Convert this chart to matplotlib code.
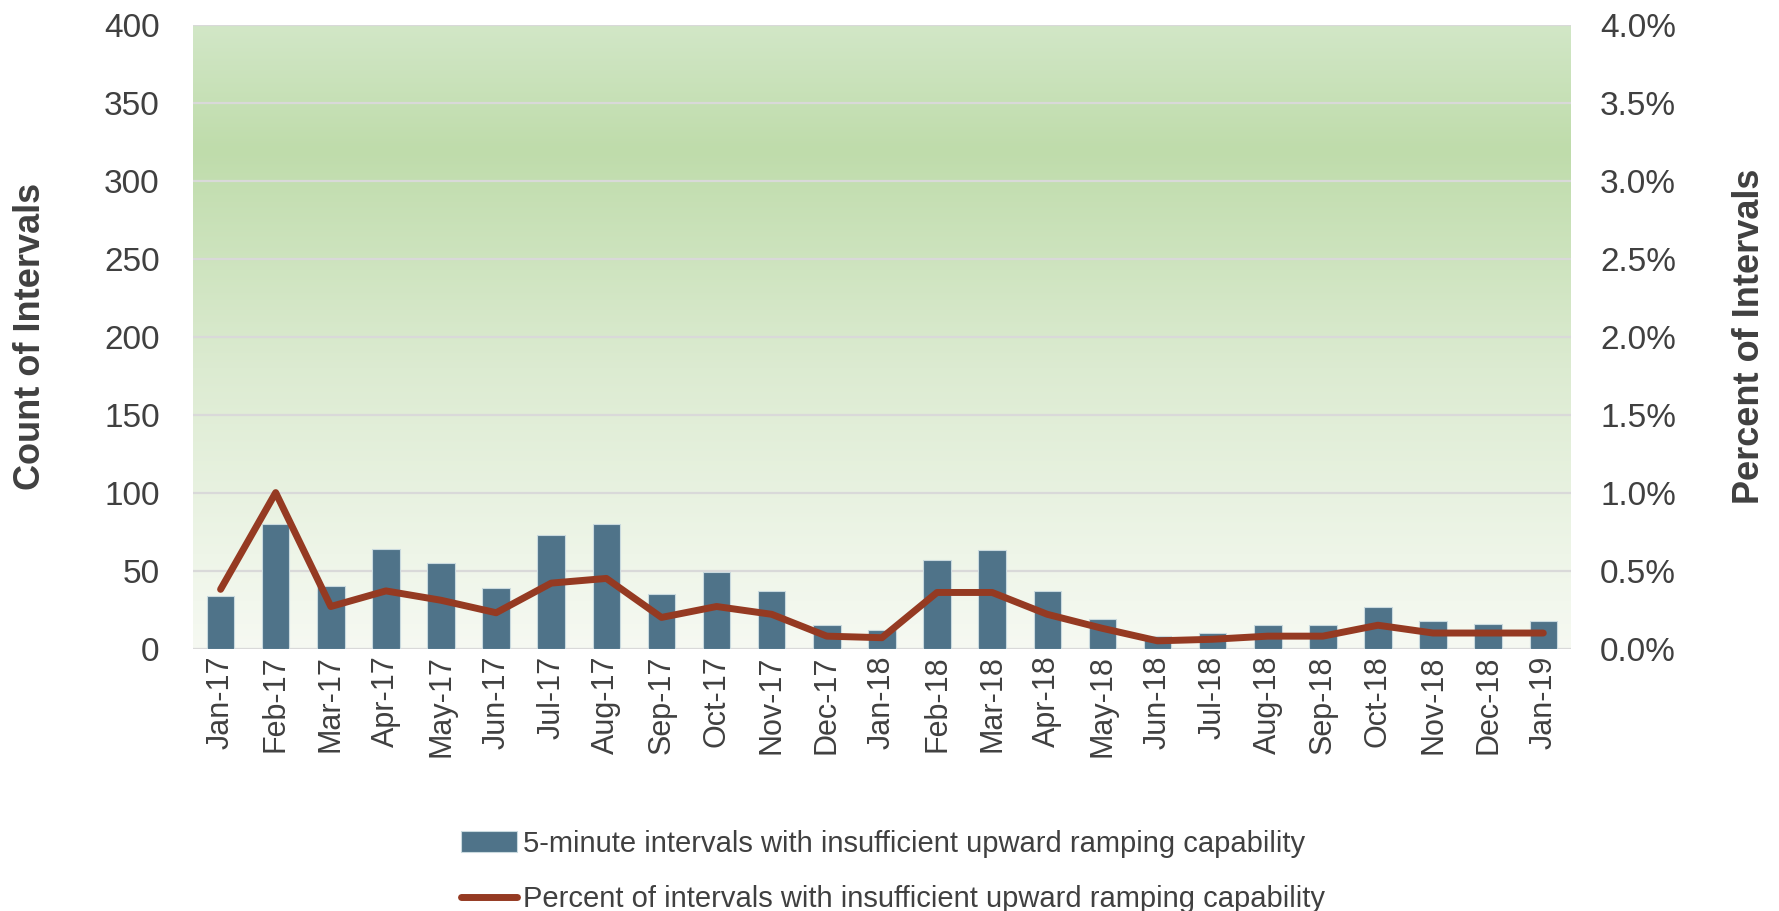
import numpy as np
import matplotlib
matplotlib.use("Agg")
import matplotlib.pyplot as plt
from matplotlib.colors import LinearSegmentedColormap
from matplotlib.ticker import FuncFormatter

months = ["Jan-17", "Feb-17", "Mar-17", "Apr-17", "May-17", "Jun-17", "Jul-17",
          "Aug-17", "Sep-17", "Oct-17", "Nov-17", "Dec-17", "Jan-18", "Feb-18",
          "Mar-18", "Apr-18", "May-18", "Jun-18", "Jul-18", "Aug-18", "Sep-18",
          "Oct-18", "Nov-18", "Dec-18", "Jan-19"]
counts = [34, 80, 40, 64, 55, 39, 73, 80, 35, 49, 37, 15, 12, 57,
          63, 37, 19, 8, 10, 15, 15, 27, 18, 16, 18]
pct = [0.38, 1.00, 0.27, 0.37, 0.31, 0.23, 0.42, 0.45, 0.20, 0.27, 0.22, 0.08, 0.07, 0.36,
       0.36, 0.22, 0.13, 0.05, 0.06, 0.08, 0.08, 0.15, 0.10, 0.10, 0.10]

bar_label = "5-minute intervals with insufficient upward ramping capability"
line_label = "Percent of intervals with insufficient upward ramping capability"

plt.rcParams["font.family"] = ["Liberation Sans", "DejaVu Sans"]
txt = "#404040"

fig = plt.figure(figsize=(17.79, 9.11), dpi=100)
ax = fig.add_axes([0.1085, 0.288, 0.7745, 0.685])

x = np.arange(len(months))

# background gradient (top -> bottom)
grad = LinearSegmentedColormap.from_list(
    "bg", [(0.0, "#f6f9f2"), (0.15, "#eef5e8"), (0.45, "#dcebd1"),
           (0.8, "#bfdcab"), (1.0, "#d2e7c7")])
ax.imshow(np.linspace(0, 1, 256).reshape(-1, 1), cmap=grad, origin="lower",
          extent=[-0.5, len(months) - 0.5, 0, 400], aspect="auto", zorder=0)

ax.bar(x, counts, width=0.5, color="#4f7389", edgecolor="#c9d9de",
       linewidth=0.8, zorder=2, label=bar_label)
ax.set_xlim(-0.5, len(months) - 0.5)
ax.set_ylim(0, 400)
ax.set_yticks(range(0, 401, 50))
ax.yaxis.grid(True, color="#d9d9d9", linewidth=1.6, zorder=1)
ax.set_axisbelow(True)
ax.set_xticks(x)
ax.set_xticklabels(months, rotation=90, fontsize=22, color=txt)
ax.tick_params(axis="y", labelsize=24, labelcolor=txt, length=0, pad=24)
ax.tick_params(axis="x", length=0, pad=5)
for s in ax.spines.values():
    s.set_visible(False)
ax.set_ylabel("Count of Intervals", fontsize=26, fontweight="bold", color=txt, labelpad=40)

ax2 = ax.twinx()
ax2.plot(x, [p / 100 for p in pct], color="#953a22", linewidth=5,
         solid_capstyle="round", solid_joinstyle="round", label=line_label, zorder=3)
ax2.set_ylim(0, 0.04)
ax2.set_yticks(np.arange(0, 0.0401, 0.005))
ax2.yaxis.set_major_formatter(FuncFormatter(lambda v, p: f"{v * 100:.1f}%"))
ax2.tick_params(axis="y", labelsize=24, labelcolor=txt, length=0, pad=21)
for s in ax2.spines.values():
    s.set_visible(False)
ax2.set_ylabel("Percent of Intervals", fontsize=26, fontweight="bold", color=txt, labelpad=40)

h1, l1 = ax.get_legend_handles_labels()
h2, l2 = ax2.get_legend_handles_labels()
fig.legend(h1 + h2, l1 + l2, loc="upper center", bbox_to_anchor=(0.502, 0.118),
           frameon=False, ncol=1, fontsize=21, labelcolor=txt,
           handlelength=1.9, handletextpad=0.2, labelspacing=0.95)

fig.savefig("out.png", dpi=100)
